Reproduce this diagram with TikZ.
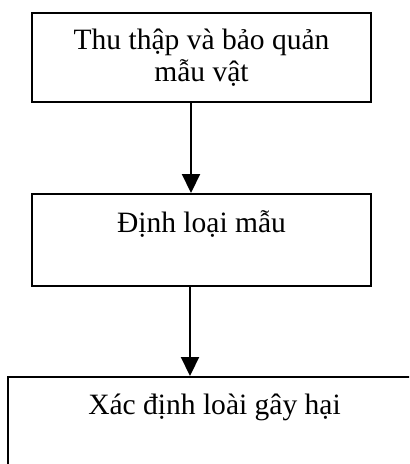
\documentclass[tikz,border=0pt]{standalone}
\usepackage{fontspec}
\setmainfont{Liberation Serif}
\usepackage{tikz}
\usetikzlibrary{shapes,arrows.meta}
\tikzstyle{box} = [rectangle, draw=black, line width=1.1pt, align=center, font=\fontsize{16.8}{18.4}\selectfont]
\tikzstyle{arrow} = [line width=1.1pt, -{Triangle[length=0.38cm, width=0.36cm]}]

\begin{document}
\begin{tikzpicture}
        \clip (0,0) rectangle (8.18,-9.28);

        \node (1) [box, xshift=4.03cm, yshift=-1.15cm, minimum width=6.78cm, minimum height=1.78cm] {Thu thập và bảo quản \\ mẫu vật};
        \node (2) [box, xshift=4.03cm, yshift=-4.80cm, minimum width=6.78cm, minimum height=1.84cm] {Định loại mẫu \\ \phantom{mẫu vật}};
        \node (3) [box, xshift=4.29cm, yshift=-8.46cm, minimum width=8.26cm, minimum height=1.84cm] {Xác định loài gây hại \\ \phantom{mẫu vật}};

        \draw[arrow] ([xshift=-0.21cm]1.south) -- ([xshift=-0.21cm]1.south |- 2.north);
        \draw[arrow] ([xshift=-0.23cm]2.south) -- ([xshift=-0.23cm]2.south |- 3.north);

    \end{tikzpicture}
\end{document}
